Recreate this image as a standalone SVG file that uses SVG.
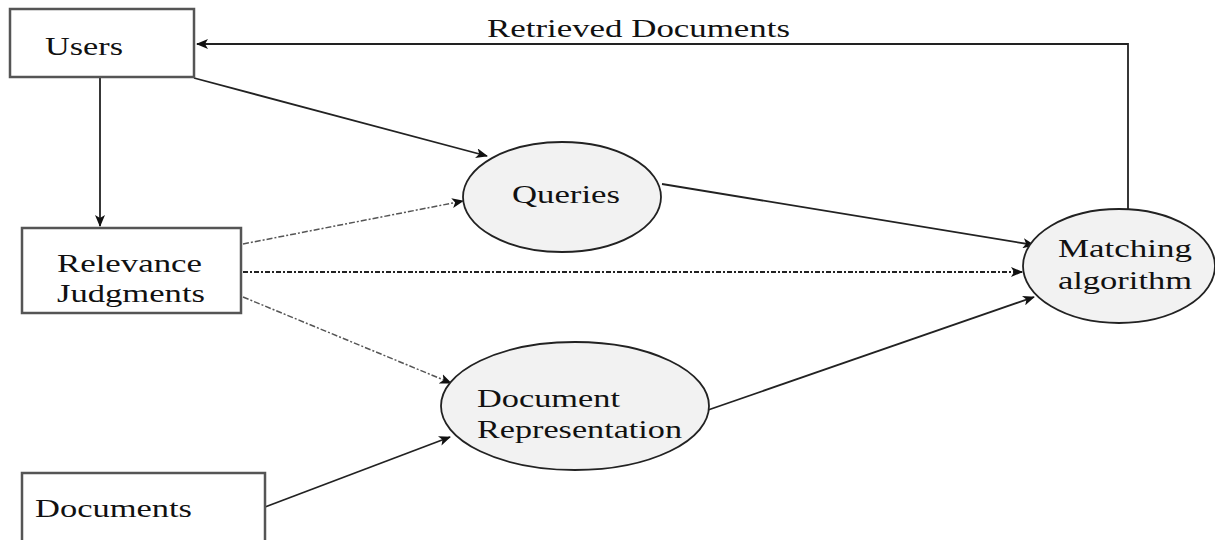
<svg xmlns="http://www.w3.org/2000/svg" width="1215" height="540" viewBox="0 0 1215 540">
<style>
.box{fill:#fff;stroke:#555;stroke-width:2.5}
.ell{fill:#f2f2f2;stroke:#222;stroke-width:1.8}
.t{font-family:"Liberation Serif","Times New Roman",serif;font-size:26px;fill:#111}
.c{fill:none;stroke:#222;stroke-width:1.8}
.d{fill:none;stroke:#555;stroke-width:1.5;stroke-dasharray:6 2 2 2}
.dk{fill:none;stroke:#222;stroke-width:1.8;stroke-dasharray:5 2 2 2}
</style>
<defs>
<marker id="ah" viewBox="0 0 12 10" refX="11" refY="5" markerWidth="12" markerHeight="10" markerUnits="userSpaceOnUse" orient="auto">
<path d="M0,0 L12,5 L0,10 L3,5 Z" fill="#111"/>
</marker>
</defs>
<rect width="1215" height="540" fill="#fff"/>
<g id="connectors">
<polyline class="c" points="1128,212 1128,44 197,44" marker-end="url(#ah)"/>
<line class="c" x1="100" y1="77" x2="100" y2="226" marker-end="url(#ah)"/>
<line class="c" x1="194" y1="78" x2="487" y2="156" marker-end="url(#ah)"/>
<line class="d" x1="243" y1="244" x2="463" y2="201" marker-end="url(#ah)"/>
<line class="dk" x1="243" y1="272" x2="1022" y2="272" marker-end="url(#ah)"/>
<line class="d" x1="243" y1="297" x2="451" y2="383" marker-end="url(#ah)"/>
<line class="c" x1="265" y1="507" x2="450" y2="437" marker-end="url(#ah)"/>
<line class="c" x1="662" y1="184" x2="1034" y2="245" marker-end="url(#ah)"/>
<line class="c" x1="708" y1="410" x2="1034" y2="297" marker-end="url(#ah)"/>
<text class="t" x="487" y="37" textLength="303" lengthAdjust="spacingAndGlyphs">Retrieved Documents</text>
</g>
<g id="users">
<rect class="box" x="10" y="9" width="184" height="68"/>
<text class="t" x="45" y="55" textLength="78" lengthAdjust="spacingAndGlyphs">Users</text>
</g>
<g id="relevance">
<rect class="box" x="22" y="228" width="219" height="85"/>
<text class="t" x="57" y="272" textLength="145" lengthAdjust="spacingAndGlyphs">Relevance</text>
<text class="t" x="57" y="302" textLength="148" lengthAdjust="spacingAndGlyphs">Judgments</text>
</g>
<g id="documents">
<rect class="box" x="22" y="473" width="243" height="80"/>
<text class="t" x="35" y="517" textLength="157" lengthAdjust="spacingAndGlyphs">Documents</text>
</g>
<g id="queries">
<ellipse class="ell" cx="562" cy="197" rx="99" ry="55"/>
<text class="t" x="512" y="203" textLength="108" lengthAdjust="spacingAndGlyphs">Queries</text>
</g>
<g id="docrep">
<ellipse class="ell" cx="575" cy="406" rx="134" ry="64"/>
<text class="t" x="477" y="407" textLength="143" lengthAdjust="spacingAndGlyphs">Document</text>
<text class="t" x="477" y="438" textLength="205" lengthAdjust="spacingAndGlyphs">Representation</text>
</g>
<g id="matching">
<ellipse class="ell" cx="1119" cy="266" rx="96" ry="57"/>
<text class="t" x="1058" y="257" textLength="134" lengthAdjust="spacingAndGlyphs">Matching</text>
<text class="t" x="1058" y="289" textLength="134" lengthAdjust="spacingAndGlyphs">algorithm</text>
</g>
</svg>
